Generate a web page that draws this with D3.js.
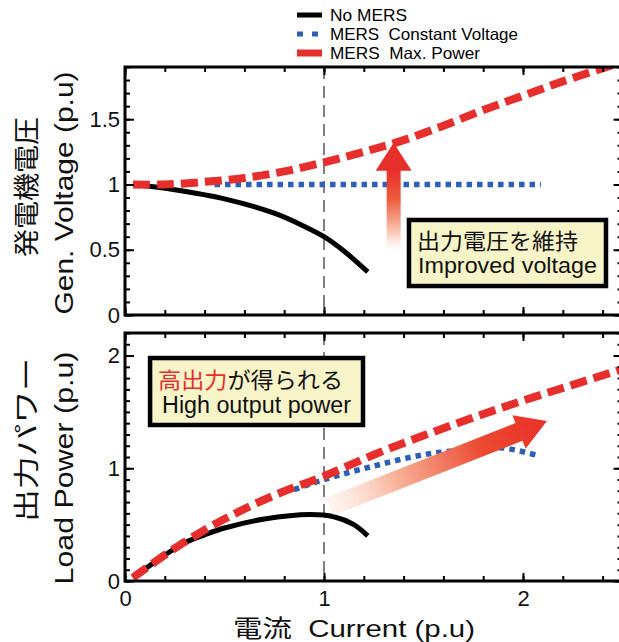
<!DOCTYPE html>
<html><head><meta charset="utf-8">
<script src="https://cdn.jsdelivr.net/npm/d3@7"></script>
<style>body{margin:0;background:#fff} svg{display:block} text{white-space:pre}</style>
</head><body>
<svg id="chart" width="619" height="642"></svg>
<script>
// values, current in p.u
var voltNoMers = [[0.05,1.0],[0.25,0.96],[0.5,0.89],[0.75,0.78],[0.9,0.68],[1.0,0.6],[1.1,0.49],[1.22,0.33]];
var voltConst  = [[0.45,1.0],[2.09,1.0]];
var voltMaxP   = [[0.04,1.0],[0.2,1.0],[0.4,1.02],[0.6,1.05],[0.8,1.1],[1.0,1.17],[1.2,1.25],[1.4,1.34],[1.6,1.45],[1.8,1.57],[2.0,1.68],[2.2,1.79],[2.5,1.94]];

var powerNoMers = [[0.04,0.03],[0.2,0.23],[0.3,0.34],[0.4,0.41],[0.5,0.47],[0.7,0.55],[0.93,0.59],[1.05,0.57],[1.15,0.5],[1.22,0.4]];
var powerConst  = [[0.85,0.81],[1.0,0.9],[1.25,1.02],[1.5,1.12],[1.75,1.17],[1.9,1.18],[2.08,1.11]];
var powerMaxP   = [[0.04,0.03],[0.25,0.29],[0.5,0.55],[0.75,0.76],[1.0,0.93],[1.25,1.12],[1.5,1.29],[1.75,1.45],[2.0,1.6],[2.25,1.74],[2.5,1.88]];

var xTicks = [0, 1, 2];
var xMinor = d3.range(0, 13).map(function (i) { return i / 5; });
var voltTicks = [0, 0.5, 1, 1.5];
var voltMinor = d3.range(0, 20).map(function (i) { return i / 10; });
var powerTicks = [0, 1, 2];
var powerMinor = d3.range(0, 23).map(function (i) { return i / 10; });

var legendNames = ["No MERS", "MERS  Constant Voltage", "MERS  Max. Power"];

var FONT = "'Liberation Sans', Arial, 'Noto Sans CJK JP', sans-serif";
var CJK = "'Noto Sans CJK JP', sans-serif";
var RED = "#e62e2d", BLUE = "#2d5fb5";

var svg = d3.select("#chart");
var defs = svg.append("defs");

var x = d3.scaleLinear().domain([0, 2.5]).range([125, 622.5]);
var yV = d3.scaleLinear().domain([0, 1.9]).range([315, 67]);
var yP = d3.scaleLinear().domain([0, 2.2]).range([581, 333]);

// series styles (draw order: blue, black, red on top)
var styles = {
    "const": {color: BLUE, width: 5.5, dash: "5.5,5"},
    "none": {color: "#000", width: 5, dash: null},
    "max": {color: RED, width: 8, dash: "17,7"}
};

function panel(id, y, majors, minors, series, showX) {
    var g = svg.append("g").attr("id", id);
    var x0 = x.range()[0], x1 = x.range()[1];
    var yb = y.range()[0], yt = y.range()[1];

    defs.append("clipPath").attr("id", "clip-" + id)
        .append("rect").attr("x", x0).attr("y", yt).attr("width", x1 - x0).attr("height", yb - yt);

    // x = 1 guide
    g.append("line")
        .attr("x1", x(1)).attr("x2", x(1)).attr("y1", yt).attr("y2", yb)
        .attr("stroke", "#808080").attr("stroke-width", 2).attr("stroke-dasharray", "12,7");

    var line = d3.line().x(function (d) { return x(d[0]); }).y(function (d) { return y(d[1]); })
        .curve(d3.curveCatmullRom.alpha(0.5));
    var lines = g.append("g").attr("clip-path", "url(#clip-" + id + ")");
    series.forEach(function (s) {
        var st = styles[s.key];
        lines.append("path").datum(s.data)
            .attr("d", line)
            .attr("fill", "none")
            .attr("stroke", st.color)
            .attr("stroke-width", st.width)
            .attr("stroke-dasharray", st.dash);
    });

    function ax(axis, tr, vals, size, fmt) {
        var a = g.append("g").attr("transform", tr)
            .call(axis.tickValues(vals).tickSize(-size).tickPadding(5).tickFormat(fmt || ""));
        a.select(".domain").remove();
        a.selectAll("line").attr("stroke", "#000").attr("stroke-width", 2);
        a.selectAll("text").attr("font-family", FONT).attr("font-size", 22).attr("fill", "#111");
        return a;
    }
    ax(d3.axisLeft(y), "translate(" + x0 + ",0)", minors, 5);
    ax(d3.axisLeft(y), "translate(" + x0 + ",0)", majors, 9, function (d) { return d; });
    ax(d3.axisRight(y), "translate(" + x1 + ",0)", minors, 5);
    ax(d3.axisRight(y), "translate(" + x1 + ",0)", majors, 9);
    ax(d3.axisTop(x), "translate(0," + yt + ")", xMinor, 5);
    ax(d3.axisTop(x), "translate(0," + yt + ")", xTicks, 8);
    ax(d3.axisBottom(x), "translate(0," + yb + ")", xMinor, 5);
    var xb = ax(d3.axisBottom(x), "translate(0," + yb + ")", xTicks, 8, showX ? function (d) { return d; } : "");
    if (showX) xb.selectAll("text").attr("y", 9);

    g.append("rect")
        .attr("x", x0).attr("y", yt).attr("width", x1 - x0).attr("height", yb - yt)
        .attr("fill", "none").attr("stroke", "#000").attr("stroke-width", 3);
    return g;
}

var voltPanel = panel("volt", yV, voltTicks, voltMinor, [
    {key: "const", data: voltConst}, {key: "none", data: voltNoMers}, {key: "max", data: voltMaxP}
], false);
var powerPanel = panel("power", yP, powerTicks, powerMinor, [
    {key: "const", data: powerConst}, {key: "none", data: powerNoMers}, {key: "max", data: powerMaxP}
], true);

// gradient arrows
function arrow(g, y, from, to, shaftW, headW, headL, gid, stops) {
    var ax0 = x(from[0]), ay0 = y(from[1]), ax1 = x(to[0]), ay1 = y(to[1]);
    var len = Math.hypot(ax1 - ax0, ay1 - ay0);
    var ang = Math.atan2(ay1 - ay0, ax1 - ax0) * 180 / Math.PI;
    var grad = defs.append("linearGradient").attr("id", gid)
        .attr("gradientUnits", "userSpaceOnUse").attr("x1", 0).attr("x2", len).attr("y1", 0).attr("y2", 0);
    stops.forEach(function (s) {
        grad.append("stop").attr("offset", s[0]).attr("stop-color", s[1]).attr("stop-opacity", s[2]);
    });
    var b = len - headL;
    var p = d3.path();
    p.moveTo(0, -shaftW / 2); p.lineTo(b, -shaftW / 2); p.lineTo(b, -headW / 2);
    p.lineTo(len, 0); p.lineTo(b, headW / 2); p.lineTo(b, shaftW / 2); p.lineTo(0, shaftW / 2); p.closePath();
    g.append("path").attr("d", p.toString())
        .attr("transform", "translate(" + ax0 + "," + ay0 + ") rotate(" + ang + ")")
        .attr("fill", "url(#" + gid + ")");
}
arrow(voltPanel, yV, [1.35, 0.46], [1.35, 1.32], 14, 36, 28, "gUp",
    [[0, "#ffffff", 0], [0.18, "#fbd0bf", 1], [0.5, "#ee5a3c", 1], [0.75, "#e8302a", 1], [1, "#e8302a", 1]]);
arrow(powerPanel, yP, [1.03, 0.66], [2.12, 1.42], 19, 36, 30, "gRight",
    [[0, "#fde5da", 0.4], [0.3, "#f8b49b", 1], [0.7, "#ec4a30", 1], [1, "#e8302a", 1]]);

// annotation boxes
function note(g, y, x0, x1, yTop, yBot, lines) {
    var rx = x(x0), ry = y(yTop);
    g.append("rect").attr("x", rx).attr("y", ry)
        .attr("width", x(x1) - rx).attr("height", y(yBot) - ry)
        .attr("fill", "#f7f4c8").attr("stroke", "#000").attr("stroke-width", 4.5);
    lines.forEach(function (l) {
        var t = g.append("text").attr("x", rx + l.dx).attr("y", ry + l.dy)
            .attr("font-family", l.cjk ? CJK : FONT).attr("font-size", l.size).attr("fill", "#111")
            .attr("textLength", l.len).attr("lengthAdjust", "spacingAndGlyphs");
        l.parts.forEach(function (pt) { t.append("tspan").attr("fill", pt[1]).text(pt[0]); });
    });
}
note(voltPanel, yV, 1.427, 2.417, 0.728, 0.222, [
    {parts: [["出力電圧を維持", "#111"]], dx: 8, dy: 29, size: 22, len: 161, cjk: true},
    {parts: [["Improved voltage", "#111"]], dx: 9, dy: 53, size: 22, len: 179}
]);
note(powerPanel, yP, 0.126, 1.196, 1.978, 1.384, [
    {parts: [["高出力", RED], ["が得られる", "#111"]], dx: 8, dy: 30, size: 22, len: 185, cjk: true},
    {parts: [["High output power", "#111"]], dx: 12, dy: 55, size: 23, len: 189}
]);

// axis titles
function vtitle(cx, cy, txt, fam, size, len) {
    svg.append("text").attr("transform", "translate(" + cx + "," + cy + ") rotate(-90)")
        .attr("text-anchor", "middle").attr("font-family", fam).attr("font-size", size).attr("fill", "#111")
        .attr("textLength", len).attr("lengthAdjust", "spacingAndGlyphs").text(txt);
}
vtitle(36, 187, "発電機電圧", CJK, 26, 140);
vtitle(73, 193, "Gen. Voltage (p.u)", FONT, 25, 243);
vtitle(36, 440, "出力パワー", CJK, 26, 164);
vtitle(73, 468, "Load Power (p.u)", FONT, 25, 233);

svg.append("text").attr("x", 233).attr("y", 637)
    .attr("font-family", FONT).attr("font-size", 24).attr("fill", "#111")
    .attr("textLength", 242).attr("lengthAdjust", "spacingAndGlyphs")
    .text("電流  Current (p.u)");

// legend
var leg = svg.append("g").attr("transform", "translate(297,0)");
var legKeys = ["none", "const", "max"];
var legY = [15, 34, 53];
var legLen = [77, 188, 150];
legKeys.forEach(function (k, i) {
    var st = styles[k];
    leg.append("line").attr("x1", 0).attr("x2", 25).attr("y1", legY[i]).attr("y2", legY[i])
        .attr("stroke", st.color).attr("stroke-width", k === "max" ? 7 : 5)
        .attr("stroke-dasharray", k === "const" ? "6,9" : null);
    leg.append("text").attr("x", 33).attr("y", legY[i] + 6)
        .attr("font-family", FONT).attr("font-size", 16.5).attr("fill", "#000")
        .attr("textLength", legLen[i]).attr("lengthAdjust", "spacingAndGlyphs")
        .text(legendNames[i]);
});
</script>
</body></html>
